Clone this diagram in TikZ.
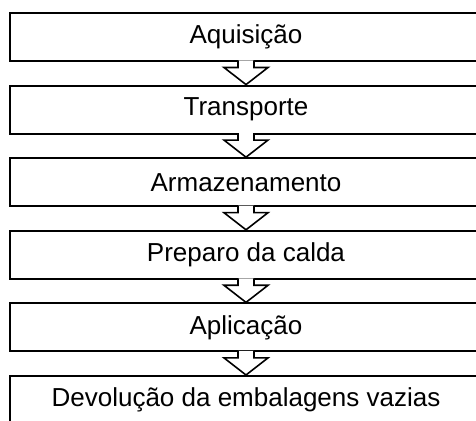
\documentclass[tikz,border=0pt]{standalone}
\usepackage{fontspec}
\setmainfont{Liberation Sans}
\usetikzlibrary{calc}

\begin{document}
\begin{tikzpicture}[
    x=0.5pt, y=-0.5pt,
    stage/.style={rectangle, draw=black, line width=1pt, minimum width=236pt, minimum height=24pt, inner sep=0pt, text centered, font=\fontsize{13}{15}\selectfont},
    blockarrow/.style={draw=black, fill=white, line width=0.8pt, line join=miter}
]
\clip (0,0) rectangle (476,421);
\fill[white] (0,0) rectangle (476,421);

\node[stage] (acq) at (246,37) {Aquisição};
\node[stage] (transp) at (246,109.6) {Transporte};
\node[stage] (armaz) at (246,182.2) {Armazenamento};
\node[stage] (preparo) at (246,254.8) {Preparo da calda};
\node[stage] (aplic) at (246,327.4) {Aplicação};
\node[stage] (devol) at (246,400) {Devolução da embalagens vazias};

% hollow arrows between the stages
\foreach \a/\b in {acq/transp, transp/armaz, armaz/preparo, preparo/aplic, aplic/devol}
  \path[blockarrow] ($(\a.south)+(-8,-1.5)$) -- ($(\a.south)+(-8,5.5)$) -- ($(\a.south)+(-22,5.5)$)
    -- (\b.north) -- ($(\a.south)+(22,5.5)$) -- ($(\a.south)+(8,5.5)$) -- ($(\a.south)+(8,-1.5)$);

\end{tikzpicture}
\end{document}
